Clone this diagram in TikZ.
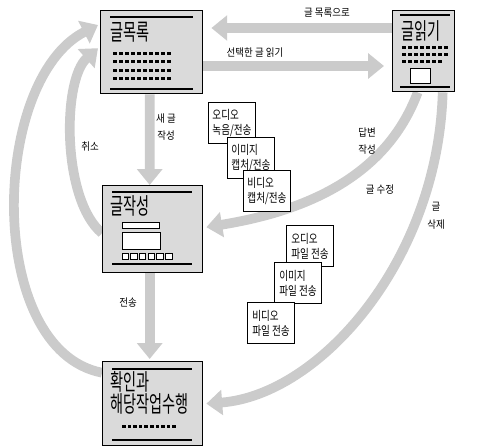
\documentclass[tikz,border=0pt]{standalone}
\usepackage{fontspec}
\usepackage{tikz}
\usetikzlibrary{arrows.meta,calc,backgrounds}
\newfontfamily\krbig[FakeStretch=0.62]{Noto Sans CJK KR}
\newfontfamily\krmid[FakeStretch=0.78]{Noto Sans CJK KR}
\newfontfamily\krsmall[FakeStretch=0.9]{Noto Sans CJK KR}
\definecolor{bandgray}{HTML}{CBCBCB}
\definecolor{boxgray}{HTML}{DADADA}
\tikzset{
  screen/.style={draw=black,line width=0.8pt,fill=boxgray,anchor=north west,inner sep=0pt},
  media/.style={draw=black,line width=0.6pt,fill=white,anchor=north west,minimum width=0.94cm,minimum height=0.82cm,align=left,inner sep=1pt,font=\krmid\fontsize{7}{8.5}\selectfont},
  title/.style={anchor=west,inner sep=0pt,align=left,font=\krbig\fontsize{13}{12.5}\selectfont},
  flowlabel/.style={inner sep=0pt,align=center,font=\krsmall\fontsize{6}{10}\selectfont},
  band/.style={draw=bandgray,line width=5.5pt,-{Triangle[width=14pt,length=9pt]}},
  bar/.style={line width=1.6pt},
  keybox/.style={draw=black,line width=0.5pt,fill=white}
}
\begin{document}
\begin{tikzpicture}[x=0.02cm,y=-0.02cm]
\useasboundingbox (0,0) rectangle (487,446);
% screens
\node[screen,minimum width=2.04cm,minimum height=1.66cm] (list) at (100,10) {};
\node[screen,minimum width=1.24cm,minimum height=1.62cm] (read) at (392,10) {};
\node[screen,minimum width=2.0cm,minimum height=1.74cm] (write) at (102,185) {};
\node[screen,minimum width=2.0cm,minimum height=1.68cm] (confirm) at (102,361) {};
% list screen
\draw[bar] (110,17)--(193,17);
\draw[bar] (110,89)--(193,89);
\node[title] (listtitle) at (110,32) {글목록};
\foreach \r in {0,...,3}{\foreach \c in {0,...,9}{\fill (113+6*\c,52+8.3*\r) rectangle ++(3.5,3);}}
% read screen
\draw[bar] (400,15)--(450,15);
\draw[bar] (400,87)--(450,87);
\node[title] (readtitle) at (401,31) {글읽기};
\foreach \r in {0,1}{\foreach \c in {0,...,7}{\fill (402+6*\c,46+7*\r) rectangle ++(3.5,3);}}
\foreach \c in {0,...,6}{\fill (402+6*\c,60) rectangle ++(3.5,3);}
\draw[keybox] (410,68) rectangle (430,83);
% write screen
\draw[bar] (112,192)--(192,192);
\draw[bar] (112,264)--(192,264);
\node[title] (writetitle) at (110,206) {글작성};
\draw[keybox] (122,222) rectangle (159,228);
\draw[keybox] (122,232) rectangle (160,249);
\foreach \c in {0,...,5}{\draw[keybox] (122+8.7*\c,253) rectangle ++(6.5,6.5);}
% confirm screen
\draw[bar] (112,369)--(192,369);
\draw[bar] (112,440)--(192,440);
\node[title] (confirmtitle) at (110,393) {확인과\\해당작업수행};
\foreach \c in {0,...,9}{\fill (122+5.6*\c,424.5) rectangle ++(3.5,3);}
% arrows, behind the screens
\begin{scope}[on background layer]
\draw[band] ($(read.north west)+(0,18)$) -- ($(list.north east)+(8,18)$);
\draw[band] ($(list.north east)+(0,56)$) -- ($(read.north west)+(-8,56)$);
\draw[band] ($(list.south)+(-2,0)$) -- ($(write.north)+(-3,0)$);
\draw[band] ($(write.south)+(-3,0)$) -- ($(confirm.north)+(-3,-2)$);
\draw[band] ($(write.west)+(0,4)$) .. controls (62,200) and (62,80) .. ($(list.west)+(-2,-4)$);
\draw[band] ($(confirm.west)+(0,-31)$) .. controls (-15,350) and (-10,80) .. ($(list.north west)+(-2,15)$);
\draw[band] ($(read.south)+(-6,0)$) .. controls (385,180) and (300,212) .. ($(write.east)+(3,-2)$);
\draw[band] ($(read.south)+(19,0)$) .. controls (438,260) and (320,395) .. ($(confirm.east)+(3,0)$);
\end{scope}
% labels
\node[flowlabel] (lbback) at (327,13) {글 목록으로};
\node[flowlabel] (lbread) at (255,53) {선택한 글 읽기};
\node[flowlabel] (lbnew) at (166,127) {새 글\\작성};
\node[flowlabel] (lbcancel) at (90,147) {취소};
\node[flowlabel] (lbreply) at (367,141) {답변\\작성};
\node[flowlabel] (lbedit) at (380,190) {글 수정};
\node[flowlabel] (lbdel) at (436,216) {글\\삭제};
\node[flowlabel] (lbsend) at (128,303) {전송};
% media
\node[media] (audrec) at (208,102) {오디오\\녹음/전송};
\node[media] (imgcap) at (227,137) {이미지\\캡처/전송};
\node[media] (vidcap) at (243,170) {비디오\\캡처/전송};
\node[media] (audfile) at (286,225) {오디오\\파일 전송};
\node[media] (imgfile) at (274,262) {이미지\\파일 전송};
\node[media] (vidfile) at (247,302) {비디오\\파일 전송};
\end{tikzpicture}
\end{document}
